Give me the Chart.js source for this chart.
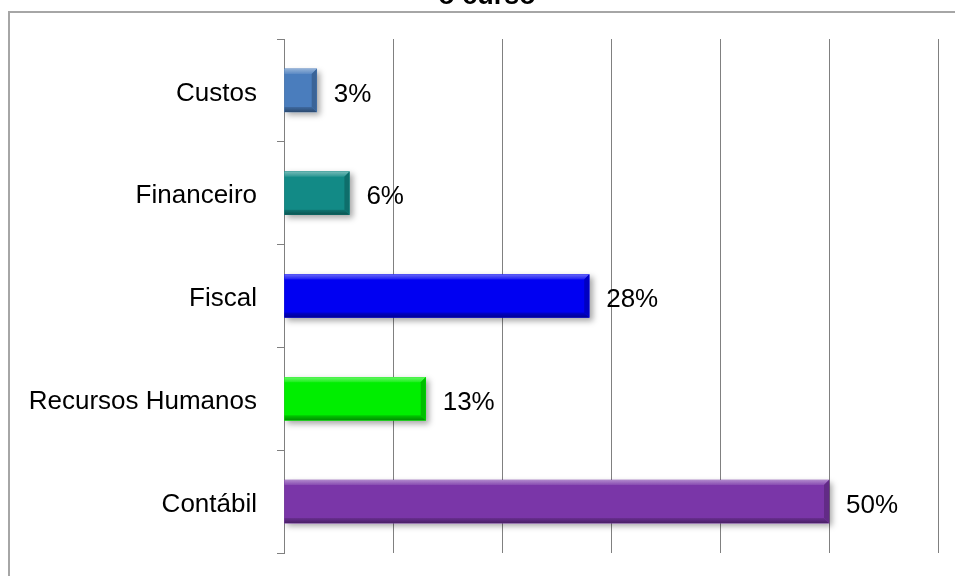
<!DOCTYPE html>
<html>
<head>
<meta charset="utf-8">
<script src="https://cdn.jsdelivr.net/npm/chart.js@4"></script>
<style>
    html, body { margin: 0; padding: 0; background: #fff; overflow: hidden; }
    body { width: 955px; height: 576px; position: relative; }
    #frame {
        position: absolute; left: 8px; top: 11px;
        width: 1000px; height: 1000px;
        border: 2px solid #a6a6a6;
    }
    #wrap { position: absolute; left: 0; top: -24px; width: 955px; height: 600px; }
</style>
</head>
<body>
<div id="frame"></div>
<div id="wrap"><canvas id="myChart"></canvas></div>
<script>
const categories = ['Custos', 'Financeiro', 'Fiscal', 'Recursos Humanos', 'Contábil'];
const percentages = [3, 6, 28, 13, 50];
const barColors = ['#4a7dbd', '#128a86', '#0000f2', '#00ee00', '#7a36a8'];
const axisMax = 60;
const axisStep = 10;

const fontFamily = '"Liberation Sans", Arial, sans-serif';

function mix(hex, target, t) {
    let n = parseInt(hex.slice(1), 16);
    let r = (n >> 16) & 255, g = (n >> 8) & 255, b = n & 255;
    r = Math.round(r + (target - r) * t);
    g = Math.round(g + (target - g) * t);
    b = Math.round(b + (target - b) * t);
    return 'rgb(' + r + ',' + g + ',' + b + ')';
}

// bevelled edges, drop shadow and the % label at the end of each bar
const bevel = {
    id: 'bevel',
    beforeDatasetsDraw(chart) {
        let ctx = chart.ctx;
        ctx.save();
        ctx.shadowColor = 'rgba(0,0,0,0.35)';
        ctx.shadowBlur = 6;
        ctx.shadowOffsetX = 3;
        ctx.shadowOffsetY = 3;
    },
    afterDatasetsDraw(chart) {
        let ctx = chart.ctx;
        ctx.restore();
        let meta = chart.getDatasetMeta(0);
        let e = 5;
        meta.data.forEach((bar, i) => {
            let p = bar.getProps(['x', 'y', 'base', 'height'], true);
            let x0 = p.base, x1 = p.x;
            let yT = p.y - p.height / 2, yB = p.y + p.height / 2;
            let c = barColors[i];
            ctx.save();
            // top edge
            let g = ctx.createLinearGradient(0, yT, 0, yT + e);
            g.addColorStop(0, mix(c, 255, 0.4));
            g.addColorStop(1, mix(c, 255, 0.1));
            ctx.fillStyle = g;
            ctx.beginPath();
            ctx.moveTo(x0, yT); ctx.lineTo(x1, yT); ctx.lineTo(x1 - e, yT + e); ctx.lineTo(x0, yT + e);
            ctx.closePath(); ctx.fill();
            // bottom edge
            let g2 = ctx.createLinearGradient(0, yB - e, 0, yB);
            g2.addColorStop(0, mix(c, 0, 0.15));
            g2.addColorStop(1, mix(c, 0, 0.4));
            ctx.fillStyle = g2;
            ctx.beginPath();
            ctx.moveTo(x0, yB); ctx.lineTo(x1, yB); ctx.lineTo(x1 - e, yB - e); ctx.lineTo(x0, yB - e);
            ctx.closePath(); ctx.fill();
            // right end
            ctx.fillStyle = mix(c, 0, 0.2);
            ctx.beginPath();
            ctx.moveTo(x1, yT); ctx.lineTo(x1, yB); ctx.lineTo(x1 - e, yB - e); ctx.lineTo(x1 - e, yT + e);
            ctx.closePath(); ctx.fill();

            ctx.fillStyle = '#000';
            ctx.font = '26px ' + fontFamily;
            ctx.textAlign = 'left';
            ctx.textBaseline = 'middle';
            ctx.fillText(percentages[i] + '%', x1 + 17, p.y + 4);
            ctx.restore();
        });
    }
};

// title sits a little right of the canvas centre
const titleShift = {
    id: 'titleShift',
    afterLayout(chart) {
        chart.titleBlock.left = 36;
    }
};

let data = {
    labels: categories,
    datasets: [{
        data: percentages,
        backgroundColor: barColors,
        borderWidth: 0,
        barThickness: 43
    }]
};

let config = {
    type: 'bar',
    data: data,
    options: {
        indexAxis: 'y',
        responsive: false,
        animation: false,
        layout: {
            padding: { left: 0, right: 17, top: 0, bottom: 23 }
        },
        plugins: {
            legend: { display: false },
            tooltip: { enabled: false },
            title: {
                display: true,
                text: 'o curso',
                color: '#000',
                font: { family: fontFamily, size: 27, weight: 'bold' },
                padding: { top: 4, bottom: 26.6 }
            }
        },
        scales: {
            x: {
                min: 0,
                max: axisMax,
                ticks: { display: false, stepSize: axisStep },
                grid: { color: '#808080', lineWidth: 1, drawTicks: false },
                border: { display: false },
                afterFit(s) { s.height = 0; }
            },
            y: {
                ticks: {
                    color: '#000',
                    padding: 20,
                    labelOffset: 3,
                    font: { family: fontFamily, size: 26 }
                },
                grid: {
                    offset: true,
                    drawOnChartArea: false,
                    color: '#808080',
                    lineWidth: 1,
                    tickLength: 7
                },
                border: { color: '#808080', width: 1 },
                afterFit(s) {
                    s.width = 284;
                    s.paddingTop = 0;
                    s.paddingBottom = 0;
                }
            }
        }
    },
    plugins: [bevel, titleShift]
};

let canvas = document.getElementById('myChart');
canvas.width = 955;
canvas.height = 600;
let myChart = new Chart(canvas, config);
</script>
</body>
</html>
